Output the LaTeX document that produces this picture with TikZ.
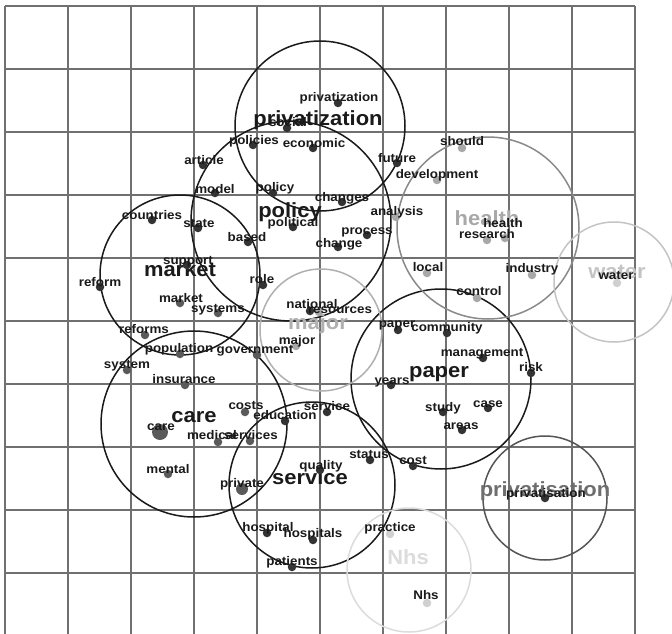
\documentclass[tikz,border=0pt]{standalone}
\usepackage{fontspec}
\newfontfamily\labfont{Liberation Sans}[FakeStretch=1.07]
\definecolor{ink}{HTML}{1A1A1A}
\definecolor{gridc}{HTML}{707070}
\definecolor{dk}{HTML}{333333}
\definecolor{md}{HTML}{5A5A5A}
\definecolor{lt}{HTML}{A8A8A8}
\definecolor{vl}{HTML}{D0D0D0}
\definecolor{healthc}{HTML}{8A8A8A}
\definecolor{waterc}{HTML}{C4C4C4}
\definecolor{majorc}{HTML}{B0B0B0}
\definecolor{nhsc}{HTML}{DCDCDC}
\definecolor{privsc}{HTML}{555555}
\tikzset{
  gridline/.style={draw=gridc, line width=1.3pt},
  ring/.style={circle, draw=ink, line width=1.5pt, inner sep=0pt},
  dot/.style={circle, inner sep=0pt, minimum size=8.5pt, draw=none},
  lab/.style={font=\labfont\bfseries\fontsize{12.5}{13}\selectfont, text=ink, anchor=base, inner sep=0pt},
  biglab/.style={font=\labfont\bfseries\fontsize{20.5}{21}\selectfont, anchor=base, inner sep=0pt}
}
\begin{document}
\begin{tikzpicture}[x=1pt,y=-1pt]
\useasboundingbox (0,0) rectangle (672,634);
\fill[white] (0,0) rectangle (672,634);
\begin{scope}
\clip (0,0) rectangle (672,634);
% grid
\foreach \i in {0,...,10} \draw[gridline] ({5+63*\i},6) -- ({5+63*\i},640);
\foreach \j in {0,...,9} \draw[gridline] (5,{6+63*\j}) -- (635,{6+63*\j});
% cluster circles
\node[ring, minimum size=170pt] (cPrivz) at (320,126) {};
\node[ring, minimum size=200pt] (cPolicy) at (291,221) {};
\node[ring, minimum size=160pt] (cMarket) at (180,275) {};
\node[ring, minimum size=186pt] (cCare) at (194,424) {};
\node[ring, minimum size=166pt] (cService) at (312,485) {};
\node[ring, minimum size=180pt] (cPaper) at (441,379) {};
\node[ring, minimum size=182pt, draw=healthc] (cHealth) at (488,228) {};
\node[ring, minimum size=120pt, draw=waterc] (cWater) at (614,282) {};
\node[ring, minimum size=122pt, draw=majorc] (cMajor) at (321,330) {};
\node[ring, minimum size=124pt, draw=nhsc] (cNhs) at (409,570) {};
\node[ring, minimum size=124pt, draw=privsc] (cPrivs) at (545,498) {};
% big cluster labels
\node[biglab, text=ink] (bPrivz) at (318,125) {privatization};
\node[biglab, text=ink] (bPolicy) at (290,217) {policy};
\node[biglab, text=ink] (bMarket) at (180,276) {market};
\node[biglab, text=ink] (bCare) at (194,422) {care};
\node[biglab, text=ink] (bService) at (310,484) {service};
\node[biglab, text=ink] (bPaper) at (439,377) {paper};
\node[biglab, text=lt] (bHealth) at (487,225) {health};
\node[biglab, text=waterc] (bWater) at (617,278) {water};
\node[biglab, text=majorc] (bMajor) at (318,329) {major};
\node[biglab, text=nhsc] (bNhs) at (408,564) {Nhs};
\node[biglab, text=privsc!85] (bPrivs) at (545,496) {privatisation};
% dots
\foreach \t/\a/\b/\c in {
  privatization/338/103/dk, social/287/128/dk,
  policies/253/145/dk, economic/313/148/dk,
  future/397/163/dk, article/203/165/dk,
  model/215/193/dk, policy/273/193/dk,
  changes/342/202/dk, analysis/396/217/lt,
  political/293/227/dk, based/248/242/dk,
  process/367/235/dk, change/338/247/dk,
  state/198/228/dk, countries/152/220/dk,
  support/187/265/dk, reform/100/287/dk,
  role/263/285/dk, market/180/303/md,
  systems/218/313/md, reforms/145/335/md,
  population/180/354/md, government/257/355/md,
  system/127/370/md, insurance/185/385/md,
  costs/245/412/md, education/285/421/dk,
  medical/218/442/md, services/250/441/md,
  mental/168/474/md,
  national/310/311/dk, resources/319/312/lt,
  major/296/346/lt,
  service/327/412/dk, quality/320/470/dk,
  status/370/460/dk, cost/413/466/dk,
  hospital/267/533/dk, hospitals/313/540/dk,
  patients/292/567/dk,
  paper/398/330/dk, community/447/333/dk,
  management/483/358/dk, risk/531/373/dk,
  years/391/385/dk, study/443/412/dk,
  case/488/408/dk, areas/462/430/dk,
  should/462/148/lt, development/437/180/lt,
  research/487/240/lt, local/427/273/lt,
  industry/532/275/lt, control/477/298/lt,
  water/617/283/vl, practice/390/534/vl,
  Nhs/427/603/vl, privatisation/545/498/dk}
{
  \node[dot, fill=\c] (d-\t) at (\a,\b) {};
}
% special dots
\node[dot, fill=md, minimum size=16pt] (d-care) at (160,432) {};
\node[dot, fill=md, minimum size=12pt] (d-private) at (242,489) {};
\node[dot, fill=lt] (d-health) at (505,238) {};
% words
\foreach \t/\x/\y in {
  privatization/339/97, social/288/122, policies/254/140, economic/314/143,
  future/397/158, article/204/160, model/215/189, policy/275/187,
  changes/342/197, analysis/397/211, political/293/222, based/247/237,
  process/367/230, change/339/243, state/199/223, countries/152/215,
  support/188/260, reform/100/282, role/262/279, market/181/298,
  systems/218/308, reforms/144/329, population/179/348, government/255/349,
  system/127/364, insurance/184/379, costs/246/405, education/285/415,
  care/161/426, medical/212/435, services/251/435, mental/168/469,
  private/242/483, national/312/304, resources/340/309, major/297/340,
  service/327/406, quality/321/465, status/369/454, cost/413/460,
  hospital/268/527, hospitals/313/533, patients/292/561,
  paper/397/323, community/447/327, management/482/352, risk/531/367,
  years/392/380, study/443/407, case/488/403, areas/461/425,
  should/462/141, development/437/174, health/503/223, research/487/234,
  local/428/267, industry/532/268, control/479/291,
  water/616/275, practice/390/527, Nhs/426/595, privatisation/546/493}
{
  \node[lab] (w-\t) at (\x,{\y+4}) {\t};
}
\end{scope}
\end{tikzpicture}
\end{document}
